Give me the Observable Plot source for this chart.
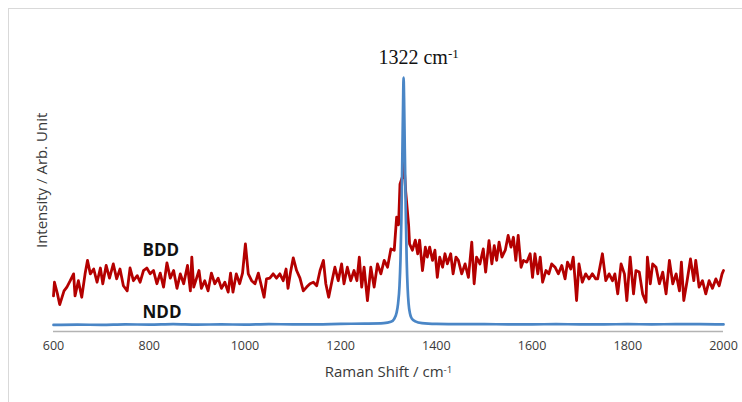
<!DOCTYPE html>
<html><head><meta charset="utf-8">
<script src="https://cdn.jsdelivr.net/npm/d3@7"></script>
<script src="https://cdn.jsdelivr.net/npm/@observablehq/plot@0.6"></script>
<style>
body{margin:0;background:#fff;}
#wrap{position:relative;width:742px;height:402px;overflow:hidden;background:#fff;}
#frame{position:absolute;left:8px;top:8px;width:800px;height:500px;border-left:1px solid #d9d9d9;border-top:1px solid #d9d9d9;}
#chart{position:absolute;left:0;top:0;}
</style></head><body><div id="wrap"><div id="frame"></div><div id="chart"></div></div>
<script>
// BDD (red) spectrum
const bddX = [600,602,608,613,622,628,635,642,645,652,659,666,671,677,684,691,698,703,710,717,725,732,739,746,754,760,767,775,781,788,795,802,809,816,823,830,837,844,851,858,865,872,880,886,889,893,899,904,909,916,923,930,937,944,951,958,965,970,975,982,989,995,1001,1007,1014,1021,1028,1035,1040,1045,1052,1059,1066,1073,1080,1086,1090,1095,1101,1108,1115,1122,1129,1136,1143,1150,1157,1164,1169,1175,1182,1188,1195,1202,1207,1214,1221,1228,1234,1239,1244,1249,1256,1263,1270,1277,1284,1291,1298,1305,1312,1317,1321,1324,1329,1331,1336,1342,1344,1350,1356,1361,1365,1371,1377,1381,1386,1392,1397,1402,1407,1413,1418,1423,1430,1435,1441,1446,1453,1460,1467,1474,1479,1484,1491,1498,1503,1510,1516,1521,1526,1531,1537,1544,1550,1556,1561,1566,1571,1577,1582,1589,1596,1601,1606,1612,1617,1622,1629,1635,1641,1648,1655,1662,1669,1674,1681,1686,1690,1693,1698,1705,1712,1719,1726,1733,1737,1747,1754,1761,1768,1773,1779,1786,1793,1798,1805,1812,1817,1824,1831,1838,1841,1847,1852,1859,1866,1873,1880,1887,1894,1901,1908,1912,1917,1924,1931,1938,1942,1949,1956,1963,1970,1977,1984,1991,1997,2000];
const bddY = [14,19.4,15,10.6,16,17.5,20,22.7,14,20,13.5,22.7,28,22.7,24.6,19.4,25,18.8,26,21,26.6,20.7,24.6,18,16,25,20,22,19.4,24,25,22.7,24,18.8,23,17.5,27,21,24,17,22.7,18.8,26,16,29.3,17.5,21,24,17,20,16,23,18.8,21,17,19.4,15.5,23,15.5,22.7,18.8,23,34.5,22.7,20,18.8,23,17.5,13.5,20.7,21,22.7,21,22.7,20,24.6,17,23,29,24,21,16,17.5,18.8,19.4,18,24,28,18.8,13.5,20,25.3,20,26.6,18.8,25.3,20,24,20,29.3,17.5,25.3,12.2,25.3,17.5,26.6,22.7,28,25.3,32.5,32,45,42,58,60.8,70,55,42,34.5,32,36,30.6,36,24,33.2,29.3,33.2,28,32,21.3,29.3,25.3,30.6,26.6,30.6,22.7,29.3,28,22.7,26.6,21.3,35.2,18.8,29.3,26.6,32.5,23.4,35.8,26.6,33.8,28,35.2,29.3,32,37.8,33.2,37.1,28,37.8,25.3,28,27.3,30.6,21.3,30.6,22.7,29.3,19.4,24,22.7,26.6,25.3,22.7,26,20.7,27.3,24.6,29.3,20,12.2,26.6,19.4,22.7,20.7,22.7,20.7,20.7,30.6,20,22.7,20,22.7,14.8,26.6,22.7,12.2,29.3,14.8,24,23.4,14.8,11.5,29.3,18.8,26.6,25.3,18.8,23.4,14.8,28,18.8,22.7,16,27.3,12.2,20,28.6,20,28,17.5,20,14.8,20,17,20.7,18,22.7,24];
// NDD (blue) spectrum
const nddX = [600,650,700,750,800,850,900,950,1000,1050,1100,1150,1200,1250,1290,1305,1312,1317,1320,1323,1325,1327,1329,1330.5,1331.5,1332.5,1334,1336,1338,1340,1342,1345,1349,1356,1370,1400,1450,1500,1550,1600,1650,1700,1750,1800,1850,1900,1950,2000];
const nddY = [2.6,2.7,2.6,2.8,2.7,2.9,2.7,2.8,2.7,2.9,2.8,2.8,3.0,3.1,3.3,3.8,5,7.5,11,18,28,45,70,90,100,92,72,48,28,17,11,7,5,4,3.3,3.0,2.9,2.9,2.8,2.8,2.9,2.8,2.8,2.9,2.8,2.9,2.9,2.8];
const xTicks = [600,800,1000,1200,1400,1600,1800,2000];
const seriesLabels = ["BDD","NDD"];
const peakLabel = "1322 cm^-1";
const xTitle = "Raman Shift / cm^-1";
const yTitle = "Intensity / Arb. Unit";

const bdd = bddX.map((x,i)=>({x, y: bddY[i]}));
const ndd = nddX.map((x,i)=>({x, y: nddY[i]}));
const seriesText = [
  {text: seriesLabels[0], x: 786, y: 29.9},
  {text: seriesLabels[1], x: 786, y: 5.5}
];

const plot = Plot.plot({
  width: 742, height: 402,
  marginTop: 77, marginBottom: 71, marginLeft: 53, marginRight: 19,
  style: {fontFamily: "'Open Sans', sans-serif", fontSize: "12.5px", color: "#3a3a3a", background: "transparent"},
  x: {domain: [600, 2000]},
  y: {domain: [0, 100], axis: null},
  marks: [
    Plot.axisX({ticks: xTicks, tickSize: 0, tickPadding: 10, tickFormat: d => String(d), label: null, fontSize: 12.5}),
    Plot.ruleY([0], {stroke: "#b3b3b3", strokeWidth: 1.6}),
    Plot.line(bdd, {x: "x", y: "y", stroke: "#b40000", strokeWidth: 2.8, strokeLinejoin: "round"}),
    Plot.line(ndd, {x: "x", y: "y", stroke: "#4a86c6", strokeWidth: 2.7, curve: "monotone-x"}),
    Plot.text(seriesText, {x: "x", y: "y", text: "text", textAnchor: "start", lineAnchor: "bottom", fontFamily: "'Open Sans', sans-serif", fontWeight: "bold", fontSize: 17, fill: "#111"}),
    Plot.text([peakLabel], {x: 1279, y: 105.5, text: d => d, textAnchor: "start", lineAnchor: "bottom", fontFamily: "'Liberation Serif', 'Times New Roman', serif", fontSize: 20, fill: "#111"}),
    Plot.text([xTitle], {x: 1300, y: -18, text: d => d, textAnchor: "middle", lineAnchor: "bottom", fontSize: 15, fill: "#3a3a3a"}),
    Plot.text([yTitle], {x: 600, y: 59.5, dx: -11, text: d => d, rotate: -90, textAnchor: "middle", lineAnchor: "middle", fontSize: 15, fill: "#3a3a3a"})
  ]
});

d3.select(plot).selectAll("text").each(function(){
  const t = this.textContent;
  if (t.includes("^")) {
    const [a, b] = t.split("^");
    const sel = d3.select(this);
    sel.text(null);
    sel.append("tspan").text(a);
    sel.append("tspan").attr("dy", "-0.45em").attr("font-size", "0.65em").text(b);
  }
});

document.getElementById("chart").appendChild(plot);
</script>
</body></html>
